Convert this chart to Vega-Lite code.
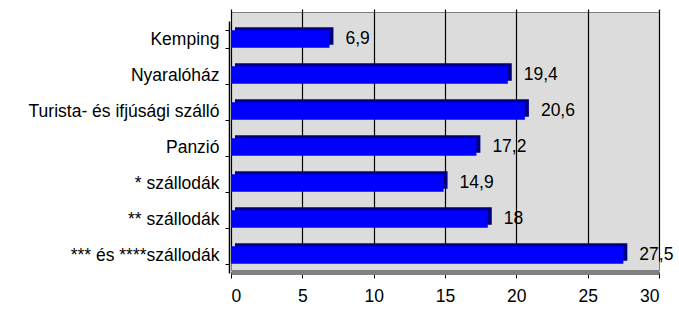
{
  "$schema": "https://vega.github.io/schema/vega-lite/v6.json",
  "width": 428,
  "height": 258,
  "autosize": {"type": "none"},
  "padding": {"left": 231, "top": 12, "right": 20, "bottom": 39},
  "background": "white",
  "data": {
    "values": [
      {"cat": "Kemping", "v": 6.9, "label": "6,9"},
      {"cat": "Nyaralóház", "v": 19.4, "label": "19,4"},
      {"cat": "Turista- és ifjúsági szálló", "v": 20.6, "label": "20,6"},
      {"cat": "Panzió", "v": 17.2, "label": "17,2"},
      {"cat": "* szállodák", "v": 14.9, "label": "14,9"},
      {"cat": "** szállodák", "v": 18, "label": "18"},
      {"cat": "*** és ****szállodák", "v": 27.5, "label": "27,5"}
    ]
  },
  "encoding": {
    "y": {
      "field": "cat", "type": "nominal", "sort": null,
      "scale": {"paddingInner": 0.52, "paddingOuter": 0.26, "range": [9, 261]},
      "axis": {
        "title": null, "labelFont": "Liberation Sans", "labelFontSize": 17.5, "labelColor": "#000",
        "labelPadding": 6, "labelLimit": 400, "domainColor": "#000", "domainWidth": 1.5, "tickColor": "#000",
        "tickSize": 4, "tickBand": "extent", "grid": false, "offset": 2
      }
    },
    "x": {
      "field": "v", "type": "quantitative",
      "scale": {"domain": [0, 30], "nice": false},
      "axis": {
        "title": null, "values": [0, 5, 10, 15, 20, 25, 30], "labelFont": "Liberation Sans",
        "labelFontSize": 17.5, "labelColor": "#000", "grid": true, "gridColor": "#000", "gridWidth": 1.2,
        "domainColor": "#808080", "domainWidth": 5, "tickColor": "#000", "tickSize": 6, "labelPadding": 9, "offset": 2
      }
    }
  },
  "layer": [
    {"mark": {"type": "bar", "color": "#000080", "xOffset": 4, "yOffset": -3}},
    {"mark": {"type": "bar", "color": "#0000ff"}},
    {"mark": {"type": "text", "align": "left", "dx": 16, "font": "Liberation Sans", "fontSize": 17.5, "color": "#000"},
     "encoding": {"text": {"field": "label"}}}
  ],
  "config": {
    "view": {"fill": "#dcdcdc", "stroke": "#808080", "strokeWidth": 1}
  }
}
